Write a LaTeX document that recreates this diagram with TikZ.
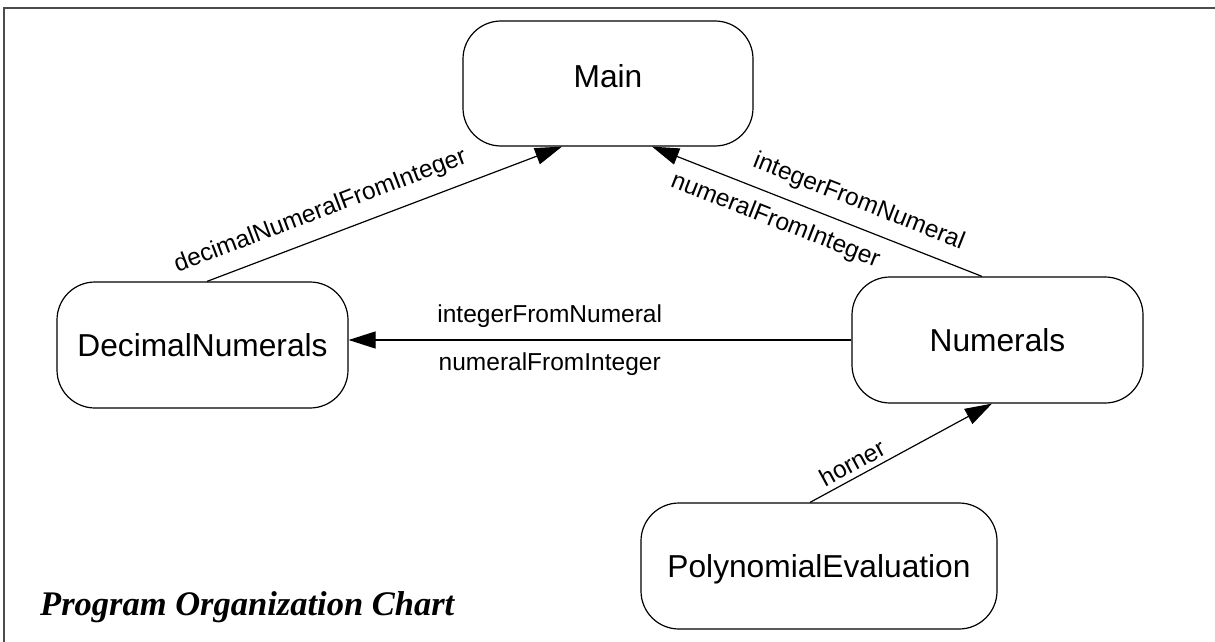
\documentclass[tikz,border=0pt]{standalone}
\usepackage{fontspec}
\setmainfont{Liberation Sans}
\newfontfamily\titlefont{Liberation Serif}
\usetikzlibrary{arrows.meta,calc}
\begin{document}
\begin{tikzpicture}[x=1pt,y=-1pt,
  module/.style={draw,line width=1.2pt,rounded corners=38pt,minimum height=126pt,
    inner sep=0pt,text height=22.8pt,text depth=0pt,font=\fontsize{31.7}{38}\selectfont},
  call/.style={line width=1.2pt,-{Triangle[length=27pt,width=17pt]}},
  lbl/.style={font=\fontsize{24.5}{29}\selectfont,inner sep=3pt},
  frame/.style={draw=black!70,line width=2.3pt}]
\useasboundingbox (0,0) rectangle (1215,642);
\draw[frame] (3.7,642) -- (3.7,7.8) -- (1215,7.8);

\node[module,minimum width=290pt,minimum height=125pt] (main) at (608,83.5) {\raisebox{7pt}{Main}};
\node[module,minimum width=291pt] (dec) at (202.5,345) {DecimalNumerals};
\node[module,minimum width=291pt] (num) at (997.5,340) {Numerals};
\node[module,minimum width=356pt] (poly) at (819,566) {PolynomialEvaluation};

\draw[call] ($(dec.north)+(4.5,0)$) -- ($(main.south)+(-46,0)$)
  node[lbl,sloped,above=10pt,pos=0.345] {decimalNumeralFromInteger};
\draw[call] ($(num.north)+(-15.5,0)$) -- ($(main.south)+(44,0)$)
  node[lbl,sloped,above=9pt,pos=0.4] {integerFromNumeral}
  node[lbl,sloped,below=9pt,pos=0.6] {numeralFromInteger};
\draw[call] (num.west) -- (num.west -| dec.east)
  node[lbl,above=9pt,pos=0.6] {integerFromNumeral}
  node[lbl,below=9pt,pos=0.6] {numeralFromInteger};
\draw[call] ($(poly.north)+(-9,0)$) -- ($(num.south)+(-5.5,0)$)
  node[lbl,sloped,above=2pt,pos=0.27] {horner};

\node[anchor=base west,inner sep=0pt,font={\titlefont\bfseries\itshape\fontsize{34.5}{40}\selectfont}] (title) at (40,615) {Program Organization Chart};
\end{tikzpicture}
\end{document}
